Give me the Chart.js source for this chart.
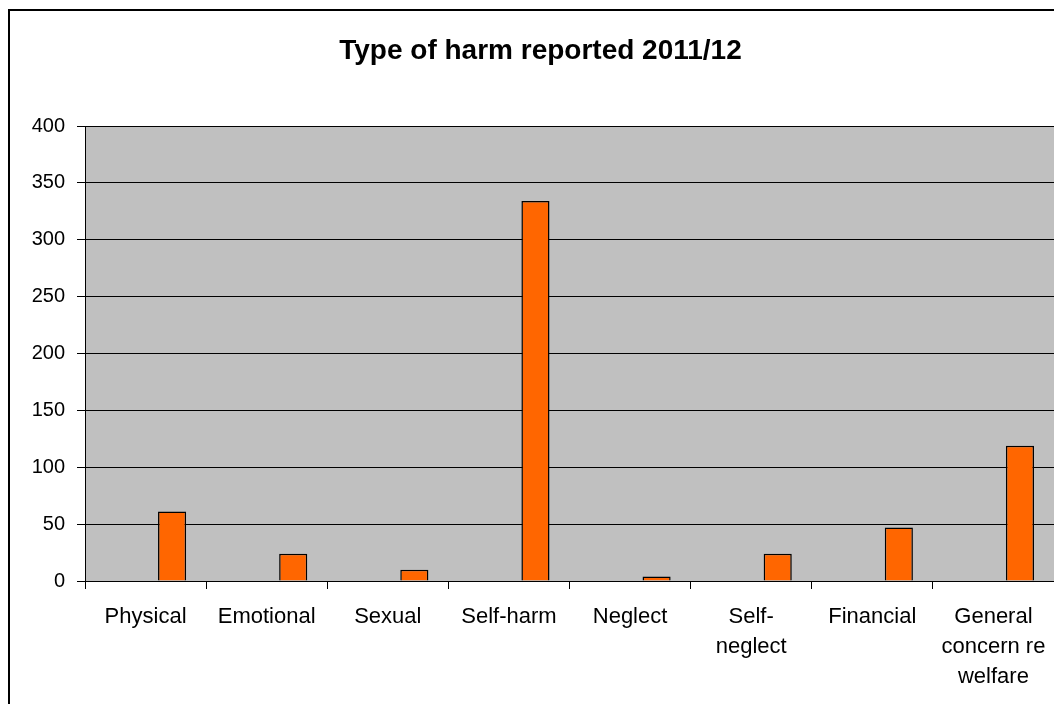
<!DOCTYPE html>
<html>
<head>
<meta charset="utf-8">
<script src="https://cdn.jsdelivr.net/npm/chart.js@4.4.1/dist/chart.umd.min.js"></script>
<style>
  html, body { margin: 0; padding: 0; background: #fff; overflow: hidden; }
  #wrap { width: 1054px; height: 704px; position: relative; }
</style>
</head>
<body>
<div id="wrap"><canvas id="c" width="1054" height="704"></canvas></div>
<script>
const categories = ["Physical", "Emotional", "Sexual", "Self-harm", "Neglect", ["Self-", "neglect"], "Financial", ["General", "concern re", "welfare"]];
const harmCounts = [61, 24, 10, 334, 4, 24, 47, 119];
const emptySeries = [null, null, null, null, null, null, null, null];
const yTicks = [0, 50, 100, 150, 200, 250, 300, 350, 400];
const chartTitle = "Type of harm reported 2011/12";

const FONT = "'Liberation Sans', Arial, sans-serif";

const frame = {
  id: 'frame',
  beforeDraw(chart) {
    const ctx = chart.ctx;
    ctx.save();
    ctx.fillStyle = '#ffffff';
    ctx.fillRect(0, 0, chart.width, chart.height);
    const a = chart.chartArea;
    ctx.fillStyle = '#c0c0c0';
    ctx.fillRect(a.left, a.top, a.right - a.left, a.bottom - a.top);
    ctx.fillStyle = '#000000';
    ctx.fillRect(8, 9, 2, chart.height);
    ctx.fillRect(8, 9, chart.width, 2);
    ctx.restore();
  }
};

const common = { categoryPercentage: 0.657, barPercentage: 1.06 };

new Chart(document.getElementById('c'), {
  type: 'bar',
  data: {
    labels: categories,
    datasets: [
      Object.assign({ label: 's1', data: emptySeries, backgroundColor: '#9999ff' }, common),
      Object.assign({ label: 's2', data: emptySeries, backgroundColor: '#993366' }, common),
      Object.assign({ label: 'Type of harm', data: harmCounts, backgroundColor: '#ff6600', borderColor: '#000000', borderWidth: 1.5 }, common)
    ]
  },
  options: {
    responsive: false,
    devicePixelRatio: 1,
    animation: false,
    layout: { padding: { left: 27, right: 0, top: 0, bottom: 0 } },
    plugins: {
      legend: { display: false },
      tooltip: { enabled: false },
      title: {
        display: true,
        text: chartTitle,
        color: '#000',
        font: { family: FONT, size: 28, weight: 'bold', lineHeight: 1.2 },
        padding: { top: 34, bottom: 58.4 }
      }
    },
    scales: {
      x: {
        grid: { display: true, drawOnChartArea: false, drawTicks: true, tickLength: 8, color: '#000', offset: true },
        border: { display: true, color: '#000', width: 1 },
        ticks: { color: '#000', font: { family: FONT, size: 22, lineHeight: 30 / 22 }, padding: 13, maxRotation: 0, autoSkip: false },
        afterFit(scale) { scale.height = 123; scale.paddingLeft = 0; scale.paddingRight = 0; }
      },
      y: {
        min: 0, max: 400,
        afterBuildTicks(scale) { scale.ticks = yTicks.map(v => ({ value: v })); },
        grid: { color: '#000', lineWidth: 1, tickLength: 8, drawTicks: true },
        border: { display: true, color: '#000', width: 1 },
        ticks: { color: '#000', font: { family: FONT, size: 20 }, padding: 12 },
        afterFit(scale) { scale.width = 58; }
      }
    }
  },
  plugins: [frame]
});
</script>
</body>
</html>
